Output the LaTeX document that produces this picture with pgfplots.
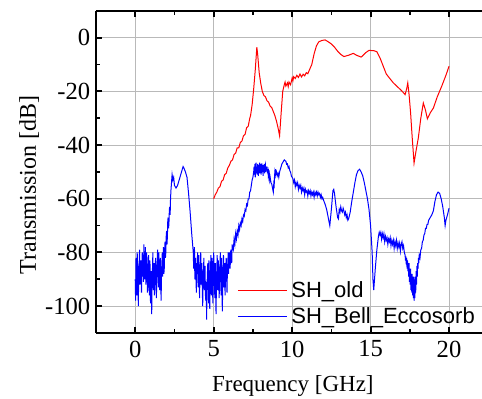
\documentclass[border=0pt]{standalone}
\usepackage{fontspec}
\setmainfont{Liberation Serif}
\setsansfont{Liberation Sans}
\usepackage{pgfplots}
\pgfplotsset{compat=1.18}

\pgfplotstableread{
x y
5.0 -60
5.1 -58.5
5.2 -57.5
5.3 -56
5.4 -55.5
5.5 -53.5
5.6 -53
5.7 -51
5.8 -50.5
5.9 -48.5
6.0 -47.5
6.1 -46
6.2 -45.5
6.3 -43.5
6.4 -43
6.5 -41
6.6 -41
6.7 -39
6.8 -38.5
6.9 -36.5
7.0 -36
7.1 -33.5
7.2 -33
7.3 -30
7.35 -29
7.45 -25
7.55 -19
7.65 -12
7.75 -3.5
7.8 -6
7.9 -13
8.0 -17
8.1 -20
8.2 -21.5
8.3 -22
8.4 -23.5
8.5 -24
8.6 -25.5
8.7 -26
8.8 -27.5
8.9 -29
9.0 -31
9.1 -33.5
9.2 -36.5
9.3 -28
9.4 -20
9.5 -17.5
9.55 -16.5
9.6 -18
9.7 -16.8
9.75 -18.2
9.8 -16.5
9.9 -17.5
10.0 -15
10.05 -16
10.1 -14.5
10.2 -15.2
10.3 -14
10.4 -14.8
10.5 -13.5
10.6 -14.6
10.7 -13.6
10.8 -14.2
10.9 -13
11.0 -13.4
11.1 -12
11.25 -10
11.4 -6
11.55 -3
11.7 -1.5
11.9 -1
12.1 -0.8
12.3 -1.5
12.5 -2.3
12.7 -3.5
12.9 -5
13.1 -6.2
13.3 -7
13.6 -6.5
13.9 -5.8
14.1 -6.5
14.4 -7.2
14.7 -5.5
14.9 -4.7
15.2 -4.8
15.4 -5.2
15.6 -7.5
15.8 -10.5
16.0 -13.5
16.2 -15
16.45 -16.8
16.7 -18.2
16.9 -19.3
17.1 -20.5
17.2 -21.2
17.3 -19
17.37 -16.8
17.45 -21
17.55 -28
17.65 -37
17.77 -46.7
17.9 -42
18.04 -37.4
18.2 -30
18.36 -24.3
18.5 -27
18.62 -30.2
18.8 -28
19.0 -26.2
19.25 -22
19.53 -18.1
19.8 -14
20.0 -10.6
}\oldtable

\pgfplotstableread{
x y
0.000 -90
0.025 -98
0.050 -82
0.075 -88
0.100 -96
0.125 -80
0.150 -84
0.175 -93
0.200 -100
0.225 -85
0.250 -86
0.275 -79
0.300 -92
0.325 -87
0.350 -83
0.375 -90
0.400 -95
0.425 -84
0.450 -80
0.475 -89
0.500 -86
0.525 -91
0.550 -77
0.575 -84
0.600 -90
0.625 -82
0.650 -78
0.675 -92
0.700 -88
0.725 -80
0.750 -84
0.775 -95
0.800 -93
0.825 -86
0.850 -81
0.875 -89
0.900 -96
0.925 -83
0.950 -85
0.975 -99
1.000 -92
1.025 -87
1.050 -103
1.075 -90
1.100 -86
1.125 -80
1.150 -94
1.175 -89
1.200 -84
1.225 -96
1.250 -91
1.275 -85
1.300 -82
1.325 -90
1.350 -97
1.375 -88
1.400 -84
1.425 -79
1.450 -88
1.475 -93
1.500 -80
1.525 -86
1.550 -94
1.575 -85
1.600 -82
1.625 -90
1.650 -98
1.675 -87
1.700 -84
1.725 -80
1.750 -89
1.775 -83
1.800 -78
1.825 -88
1.850 -86
1.875 -79
1.900 -76
1.925 -82
1.950 -80
1.975 -74
2.000 -72
2.025 -77
2.050 -74
2.075 -68
2.100 -67
2.125 -71
2.150 -69
2.175 -64
2.200 -63
2.225 -66
2.250 -60
2.275 -57
2.300 -55
2.35 -51
2.40 -53
2.45 -52
2.50 -55
2.60 -56
2.70 -55
2.80 -53
2.90 -51
3.00 -49
3.05 -48
3.10 -48.5
3.20 -50
3.30 -52
3.40 -58
3.50 -65
3.60 -73
3.700 -80
3.725 -86
3.750 -84
3.775 -78
3.800 -90
3.825 -85
3.850 -82
3.875 -91
3.900 -95
3.925 -84
3.950 -85
3.975 -80
4.000 -88
4.025 -93
4.050 -81
4.075 -87
4.100 -97
4.125 -89
4.150 -86
4.175 -80
4.200 -92
4.225 -88
4.250 -84
4.275 -94
4.300 -100
4.325 -90
4.350 -87
4.375 -82
4.400 -94
4.425 -89
4.450 -85
4.475 -96
4.500 -98
4.525 -91
4.550 -105
4.575 -93
4.600 -88
4.625 -84
4.650 -93
4.675 -99
4.700 -83
4.725 -90
4.750 -101
4.775 -92
4.800 -86
4.825 -81
4.850 -96
4.875 -89
4.900 -82
4.925 -93
4.950 -99
4.975 -87
5.000 -80
5.025 -86
5.050 -92
5.075 -97
5.100 -84
5.125 -90
5.150 -103
5.175 -92
5.200 -86
5.225 -81
5.250 -94
5.275 -88
5.300 -83
5.325 -91
5.350 -97
5.375 -89
5.400 -85
5.425 -80
5.450 -91
5.475 -96
5.500 -82
5.525 -88
5.550 -102
5.575 -93
5.600 -87
5.625 -81
5.650 -93
5.675 -88
5.700 -84
5.725 -96
5.750 -90
5.775 -85
5.800 -82
5.825 -89
5.850 -95
5.875 -86
5.900 -84
5.925 -80
5.950 -88
5.975 -83
6.000 -80
6.025 -85
6.050 -86
6.075 -80
6.100 -79
6.125 -83
6.150 -84
6.175 -77
6.200 -78
6.25 -79
6.30 -75
6.35 -77
6.40 -73
6.45 -75
6.50 -72
6.55 -73.5
6.60 -70
6.65 -71.5
6.70 -69
6.75 -70
6.80 -67.5
6.85 -68.5
6.90 -66
6.95 -66.5
7.00 -64
7.05 -64.5
7.10 -62
7.15 -62.5
7.20 -60
7.25 -60
7.30 -57.5
7.35 -57
7.40 -55
7.45 -53
7.50 -52
7.55 -50
7.575 -48
7.600 -51
7.625 -47
7.650 -52
7.675 -48
7.700 -46.5
7.725 -50.5
7.750 -48
7.775 -51
7.800 -47
7.825 -49.5
7.850 -51.5
7.875 -47.5
7.900 -49
7.925 -46.5
7.950 -50.5
7.975 -48
8.000 -47
8.025 -51
8.050 -48.5
8.075 -46.8
8.100 -50
8.125 -48
8.150 -51.5
8.175 -47.5
8.200 -49
8.225 -47
8.250 -50.5
8.275 -48.5
8.300 -47.5
8.325 -50
8.350 -48
8.375 -49.5
8.400 -48
8.425 -50.5
8.450 -49
8.475 -51
8.500 -50
8.525 -52
8.550 -51
8.575 -53
8.600 -52
8.650 -54
8.700 -54.5
8.750 -56
8.800 -57.5
8.825 -55
8.850 -56
8.875 -52
8.900 -50
8.925 -51
8.950 -49
8.975 -50.5
9.000 -50
9.050 -51.5
9.100 -50.5
9.150 -52
9.200 -50
9.250 -49
9.300 -48
9.350 -47
9.400 -46.5
9.450 -46
9.500 -45.5
9.550 -45.8
9.600 -46
9.650 -47.2
9.700 -47
9.750 -48.5
9.800 -48
9.850 -49.5
9.900 -50
9.950 -51.5
10.00 -52
10.05 -52.5
10.10 -54
10.15 -53
10.20 -55.5
10.25 -54
10.30 -55
10.35 -54
10.40 -56.5
10.45 -55
10.50 -56
10.55 -55
10.60 -57.5
10.65 -56
10.70 -57
10.75 -56
10.80 -58.5
10.85 -56.5
10.90 -57.5
10.95 -57
11.00 -59
11.05 -57
11.10 -58
11.15 -57
11.20 -59
11.25 -57.5
11.30 -58.5
11.35 -57.5
11.40 -59.5
11.45 -57.5
11.50 -58.5
11.55 -57.5
11.60 -59
11.65 -57.5
11.70 -58.5
11.75 -58
11.80 -59.5
11.85 -58.5
11.90 -60
11.95 -59.5
12.0 -60.5
12.1 -62
12.2 -64
12.3 -67
12.4 -70
12.5 -64
12.6 -57
12.65 -56.5
12.7 -58
12.8 -63
12.9 -67
12.95 -67.5
13.0 -64
13.05 -65
13.1 -63
13.15 -64.5
13.2 -65
13.25 -63.5
13.3 -64.5
13.35 -66
13.4 -65
13.45 -67
13.5 -66
13.55 -68
13.6 -67.5
13.7 -65
13.8 -61
13.9 -57.5
14.0 -54
14.1 -51
14.2 -49.5
14.3 -49
14.4 -50
14.5 -51.5
14.6 -54
14.7 -57
14.8 -60
14.9 -64
15.0 -70
15.1 -80
15.15 -90
15.2 -94
15.3 -86
15.4 -79
15.50 -74
15.55 -72.5
15.60 -73.5
15.65 -72.5
15.70 -75
15.75 -73
15.80 -74.5
15.85 -73
15.90 -76
15.95 -74
16.00 -75.5
16.05 -74.5
16.10 -77
16.15 -75
16.20 -76
16.25 -74.5
16.30 -77.5
16.35 -75.5
16.40 -77
16.45 -75.5
16.50 -78.5
16.55 -76
16.60 -77.5
16.65 -75.5
16.70 -78.5
16.75 -76.5
16.80 -78
16.85 -76.5
16.90 -79.5
16.95 -77
17.00 -76
17.05 -78.5
17.10 -77.5
17.15 -80
17.20 -81
17.225 -83
17.250 -81.5
17.275 -84.5
17.300 -82
17.325 -86
17.350 -83
17.375 -87
17.400 -84
17.425 -89
17.450 -84
17.475 -91
17.500 -86
17.525 -92
17.550 -86
17.575 -94
17.600 -88
17.625 -95
17.650 -88
17.675 -96
17.700 -89
17.725 -97
17.750 -89
17.775 -98
17.800 -90
17.825 -97
17.850 -89
17.875 -95
17.900 -87
17.925 -92
17.950 -85
17.975 -89
18.000 -84
18.025 -86
18.050 -82
18.075 -84
18.100 -81
18.150 -82
18.200 -79
18.250 -78.5
18.300 -76
18.350 -75.5
18.400 -73.5
18.450 -73
18.500 -71
18.550 -71
18.600 -69.5
18.650 -69.5
18.700 -68
18.8 -67
18.9 -66
19.0 -64.5
19.1 -61
19.2 -58.5
19.3 -57.5
19.4 -58
19.5 -60
19.6 -63
19.7 -67
19.75 -70
19.8 -68
19.9 -66
20.0 -63.5
}\belltable

\begin{document}
\fontsize{11}{13}\selectfont
\begin{tikzpicture}
\begin{axis}[
  scale only axis,
  width=193pt, height=161pt,
  xmin=-2.5, xmax=22.1, ymin=-110, ymax=10,
  axis x line*=box, axis y line*=left,
  axis line style={line width=1pt, black},
  xtick={0,5,10,15,20},
  ytick={-100,-80,-60,-40,-20,0},
  xticklabel={\pgfmathparse{int(round(\tick))}\rmfamily\pgfmathresult},
  yticklabel={\pgfmathparse{int(round(\tick))}\rmfamily\pgfmathresult},
  minor x tick num=1, minor y tick num=1,
  tick align=inside,
  major tick length=3pt, minor tick length=1.8pt,
  every major tick/.style={line width=1pt, black},
  every minor tick/.style={line width=0.8pt, black},
  grid=major,
  major grid style={gray!55, line width=0.5pt},
  tick label style={font=\rmfamily\fontsize{12.3}{14}\selectfont},
  yticklabel style={xshift=1pt},
  xlabel={Frequency [GHz]},
  ylabel={Transmission [dB]},
  xlabel shift=1.5pt,
  ylabel shift=-4.5pt,
  xlabel style={font=\rmfamily\fontsize{11.5}{13}\selectfont, at={(ticklabel cs:0.51)}},
  ylabel style={font=\rmfamily\fontsize{12}{14}\selectfont, at={(ticklabel cs:0.46)}},
  legend style={at={(0.36,0.0)}, anchor=south west, draw=none, fill=none,
    font=\sffamily\fontsize{11}{13}\selectfont, inner sep=1pt, row sep=-0.5pt},
  legend cell align=left,
  legend image code/.code={\draw[#1] (0pt,0pt) -- (24.5pt,0pt);},
]
\addplot[red, line width=0.5pt] table[x=x,y=y] {\oldtable};
\addlegendentry{SH\_old}
\addplot[blue, line width=0.5pt] table[x=x,y=y] {\belltable};
\addlegendentry{SH\_Bell\_Eccosorb}
\coordinate (bbsw) at (rel axis cs:-0.2487,-0.205);
\coordinate (bbne) at (rel axis cs:1,1.034);
\end{axis}
\pgfresetboundingbox
\path[use as bounding box] (bbsw) rectangle (bbne);
\end{tikzpicture}
\end{document}
